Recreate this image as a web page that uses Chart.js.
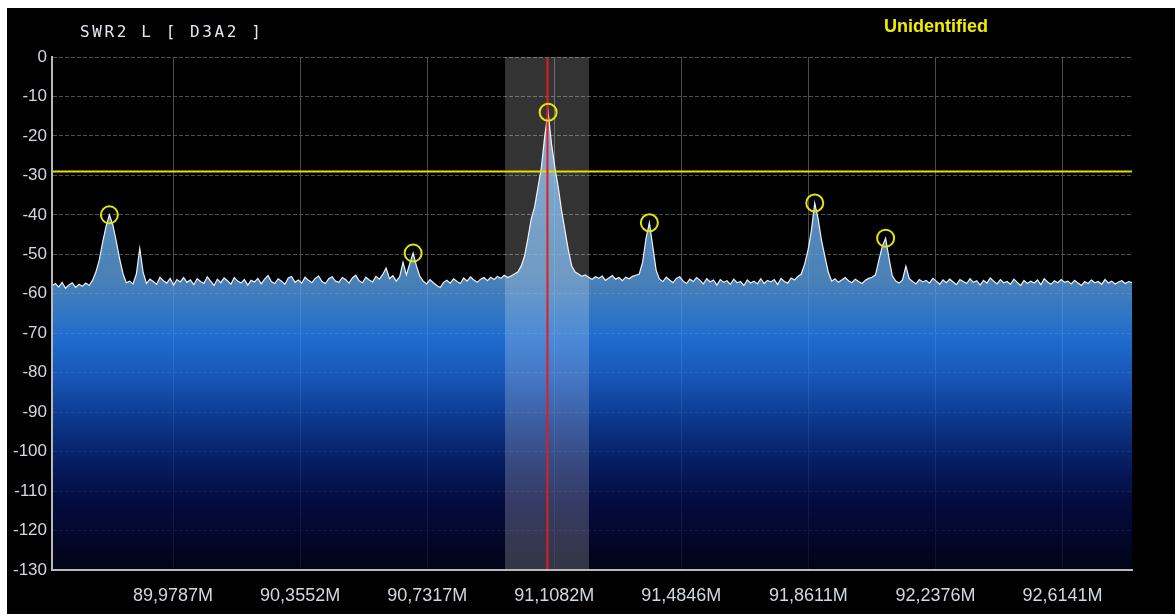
<!DOCTYPE html>
<html>
<head>
<meta charset="utf-8">
<title>SWR2 L [ D3A2 ]</title>
<script src="https://cdn.jsdelivr.net/npm/chart.js@4/dist/chart.umd.min.js"></script>
<style>
  html, body { margin: 0; padding: 0; background: #fff; width: 1175px; height: 614px; overflow: hidden; }
  #wrap { position: absolute; left: 7px; top: 8px; width: 1168px; height: 606px; background: #000; }
  canvas { display: block; }
</style>
</head>
<body>
<div id="wrap"><canvas id="spectrum" width="1168" height="606"></canvas></div>
<script>
// Sweep: first bin and bin width (MHz)
const startMHz = 89.62;
const binMHz = 0.01;
const spanMHz = [89.62, 92.82];

// Measured level per bin (dB)
const levelsDb = [
  -58.0, -57.4, -58.3, -57.1, -58.6, -57.8, -57.2, -58.4, -57.6, -58.1,
  -57.3, -57.9, -56.6, -54.5, -51.5, -47.0, -43.0, -40.0, -42.5, -46.5,
  -51.0, -54.8, -57.2, -56.8, -57.5, -55.0, -48.5, -54.6, -57.4, -56.3,
  -56.9, -57.6, -55.8, -56.7, -57.3, -56.1, -57.8, -56.4, -57.0, -55.9,
  -57.1, -56.5, -57.7, -56.2, -56.9, -57.4, -55.7, -56.8, -57.9, -56.3,
  -57.2, -56.0, -56.7, -57.6, -55.9, -56.8, -57.3, -56.4, -57.8, -56.6,
  -57.0, -56.1, -57.5, -56.3, -55.4, -56.9, -57.4, -56.2, -56.8, -57.6,
  -56.0, -55.6, -57.1, -56.5, -57.3, -55.8, -56.6, -57.2, -56.1, -55.5,
  -56.9, -57.4, -56.2, -55.7, -56.8, -57.1, -55.9, -56.4, -57.3, -56.0,
  -55.3, -56.7, -57.2, -55.8, -56.5, -57.0, -55.6, -56.3, -55.1, -53.5,
  -56.2, -55.4, -56.8, -55.7, -52.0, -55.2, -52.4, -49.7, -53.0, -55.6,
  -56.8, -57.5, -56.4, -57.2, -57.9, -58.4, -57.1, -56.6, -57.3, -56.2,
  -56.9, -57.4, -56.0, -56.8, -55.7, -56.5, -57.1, -56.3, -55.9, -56.7,
  -55.8, -56.4, -55.6, -56.1, -55.3, -55.9, -55.5, -55.0, -54.5, -53.0,
  -50.5, -46.0, -41.0, -38.0, -33.0, -28.0, -20.0, -14.0, -22.0, -28.0,
  -33.0, -39.0, -44.0, -49.0, -53.0, -54.5, -55.0, -55.6, -55.2, -55.8,
  -56.4, -55.7, -56.1, -55.5, -56.6, -56.0, -55.4, -56.3, -55.9, -56.7,
  -55.8, -56.2, -55.6, -55.3, -55.0, -52.0, -46.0, -42.0, -48.0, -54.0,
  -56.3, -56.9, -55.8, -56.5, -57.2, -56.1, -55.7, -56.8, -57.4, -56.3,
  -56.9, -55.9, -56.6, -57.5, -56.2, -57.0, -56.5, -57.8, -56.4, -57.1,
  -56.7, -57.6, -56.3, -57.2, -56.9, -57.9, -56.5, -57.3, -56.8, -57.5,
  -56.2, -57.4, -56.6, -57.0, -56.4, -57.7, -56.1, -56.9, -57.3, -56.0,
  -56.5, -55.6, -55.0, -52.5, -49.0, -44.0, -37.0, -41.0, -46.5, -50.5,
  -54.5, -56.8, -56.2, -57.1, -56.5, -55.9, -56.7, -57.2, -56.3, -56.9,
  -57.4, -56.6, -56.1, -55.8, -55.2, -51.5, -48.0, -45.9, -51.0, -55.5,
  -56.8, -57.3, -56.5, -53.0, -56.2, -56.9, -57.5, -56.4, -57.0, -56.6,
  -57.3, -56.1, -56.8, -57.6, -56.5, -57.2, -56.3, -57.0, -57.7, -56.4,
  -56.9, -57.4, -56.2, -57.1, -56.7, -57.8, -56.6, -57.3, -56.0, -56.8,
  -57.5, -56.4, -57.2, -56.9, -57.6, -56.3, -57.1, -57.9, -56.6, -57.4,
  -56.8, -57.3, -56.5, -57.7, -56.2, -57.0, -57.6, -56.7, -57.2, -56.4,
  -57.1, -56.8, -57.5, -56.6, -57.3, -57.9, -56.9, -57.4, -56.5, -57.2,
  -56.9, -57.6, -56.4, -57.3, -56.8, -57.5, -57.0, -56.7, -57.4, -56.9,
  -57.2
];

// Detected carriers (MHz)
const peakFreqs = [89.79, 90.69, 91.09, 91.39, 91.88, 92.09];

// Receiver settings
const tunedMHz = 91.088;
const bandMHz = [90.962, 91.211];
const squelchDb = -29;

// Axis ticks
const freqTicks = [89.9787, 90.3552, 90.7317, 91.1082, 91.4846, 91.8611, 92.2376, 92.6141];
const dbTicks = [0, -10, -20, -30, -40, -50, -60, -70, -80, -90, -100, -110, -120, -130];

const binIndex = f => Math.round((f - startMHz) / binMHz);
const trace = levelsDb.map((v, i) => ({ x: +(startMHz + i * binMHz).toFixed(2), y: v }));
const peaks = peakFreqs.map(f => ({ x: f, y: levelsDb[binIndex(f)] }));

// Vertical gradient under the trace
function spectrumFill(ctx) {
  const chart = ctx.chart;
  const a = chart.chartArea;
  if (!a) return 'rgba(90,160,228,0.8)';
  const g = chart.ctx.createLinearGradient(0, a.top, 0, a.bottom);
  g.addColorStop(0.00, 'rgba(150,205,255,0.8)');
  g.addColorStop(0.40, 'rgba(96,164,228,0.8)');
  g.addColorStop(0.44, 'rgba(90,160,228,0.8)');
  g.addColorStop(0.50, 'rgba(60,148,245,0.8)');
  g.addColorStop(0.554, 'rgba(38,133,255,0.8)');
  g.addColorStop(0.63, 'rgba(28,105,225,0.8)');
  g.addColorStop(0.708, 'rgba(15,69,175,0.8)');
  g.addColorStop(0.785, 'rgba(8,38,125,0.8)');
  g.addColorStop(0.862, 'rgba(4,15,81,0.8)');
  g.addColorStop(1.00, 'rgba(3,3,28,0.8)');
  return g;
}

// Station caption and identification text
const captions = {
  id: 'captions',
  afterDraw(chart) {
    const c = chart.ctx;
    c.save();
    c.textBaseline = 'middle';
    c.font = '16px "DejaVu Sans Mono", monospace';
    c.letterSpacing = '2.6px';
    c.fillStyle = '#e4e8ef';
    c.textAlign = 'left';
    c.fillText('SWR2 L [ D3A2 ]', 73, 25);
    c.letterSpacing = '0px';
    c.font = 'bold 18px "Liberation Sans", Arial, sans-serif';
    c.fillStyle = '#f2ee00';
    c.textAlign = 'center';
    c.fillText('Unidentified', 929, 19);
    c.restore();
  }
};

new Chart(document.getElementById('spectrum'), {
  type: 'line',
  data: {
    datasets: [
      {
        label: 'peaks',
        data: peaks,
        showLine: false,
        pointRadius: 8.5,
        pointBorderWidth: 2,
        pointBorderColor: '#e8e400',
        pointBackgroundColor: 'rgba(0,0,0,0)',
        order: 0
      },
      {
        label: 'tuned',
        data: [{ x: tunedMHz, y: 0 }, { x: tunedMHz, y: -130 }],
        borderColor: '#e01e1e',
        borderWidth: 2,
        pointRadius: 0,
        order: 1
      },
      {
        label: 'squelch',
        data: [{ x: spanMHz[0], y: squelchDb }, { x: spanMHz[1], y: squelchDb }],
        borderColor: '#e6dc00',
        borderWidth: 2,
        pointRadius: 0,
        order: 2
      },
      {
        label: 'bandwidth',
        data: [{ x: bandMHz[0], y: 0 }, { x: bandMHz[1], y: 0 }],
        borderWidth: 0,
        borderColor: 'rgba(0,0,0,0)',
        backgroundColor: 'rgba(255,255,255,0.2)',
        fill: 'start',
        pointRadius: 0,
        order: 3
      },
      {
        label: 'spectrum',
        data: trace,
        borderColor: '#eef2f6',
        borderWidth: 1.2,
        backgroundColor: spectrumFill,
        fill: 'start',
        pointRadius: 0,
        order: 4
      }
    ]
  },
  options: {
    responsive: false,
    animation: false,
    devicePixelRatio: 1,
    layout: { padding: { top: 49, right: 43, left: 0, bottom: 0 } },
    plugins: { legend: { display: false }, tooltip: { enabled: false } },
    scales: {
      x: {
        type: 'linear',
        min: spanMHz[0],
        max: spanMHz[1],
        afterBuildTicks: s => { s.ticks = freqTicks.map(v => ({ value: v })); },
        afterFit: s => { s.height = 44; },
        grid: { color: '#4c4c4c', lineWidth: 1, drawTicks: false },
        border: { color: '#b8b8b8', width: 2, z: 1 },
        ticks: {
          color: '#d2d8de',
          font: { family: '"Liberation Sans", Arial, sans-serif', size: 18 },
          padding: 15,
          maxRotation: 0,
          autoSkip: false,
          callback: v => v.toFixed(4).replace('.', ',') + 'M'
        }
      },
      y: {
        min: -130,
        max: 0,
        afterBuildTicks: s => { s.ticks = dbTicks.map(v => ({ value: v })); },
        afterFit: s => { s.width = 45; },
        grid: {
          color: c => (c.tick && c.tick.value === -130) ? 'rgba(0,0,0,0)' : '#505050',
          lineWidth: 1,
          drawTicks: false
        },
        border: { color: '#b8b8b8', width: 2, dash: [4, 2], z: 1 },
        ticks: {
          color: '#d2d8de',
          font: { family: '"Liberation Sans", Arial, sans-serif', size: 17 },
          padding: 5,
          callback: v => String(v)
        }
      }
    }
  },
  plugins: [captions]
});
</script>
</body>
</html>
